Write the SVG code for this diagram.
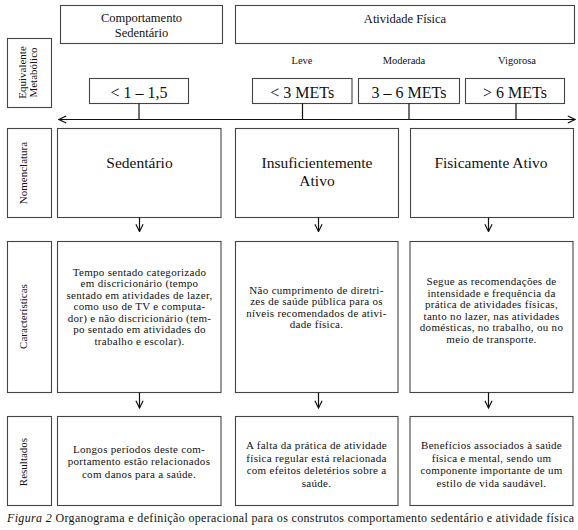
<svg xmlns="http://www.w3.org/2000/svg" width="578" height="530" viewBox="0 0 578 530">
<style>
.box{fill:#fff;stroke:#444;stroke-width:1.1}
.t{font-family:"Liberation Serif",serif;fill:#111;text-anchor:middle}
.h{font-size:12.5px}
.m{font-size:16px}
.s{font-size:10.5px}
.n{font-size:15.5px}
.b{font-size:11px;letter-spacing:0.3px}
.lab{font-size:11px}
.ln{stroke:#111;stroke-width:1.2;fill:none}
</style>
<defs>
<marker id="ah" viewBox="0 0 10 10" refX="9" refY="5" markerWidth="9" markerHeight="9" markerUnits="userSpaceOnUse" orient="auto">
<path d="M1,1 L9,5 L1,9" fill="none" stroke="#111" stroke-width="1.3"/>
</marker>
</defs>
<rect width="578" height="530" fill="#fff"/>

<g id="hdr-sed"><rect class="box" x="60.5" y="5.5" width="162" height="38"/>
<text class="t h" x="141.5" y="22">Comportamento</text><text class="t h" x="141.5" y="36.5">Sedentário</text></g>
<g id="hdr-af"><rect class="box" x="235.5" y="5.5" width="339" height="38"/>
<text class="t h" x="405" y="23">Atividade Física</text></g>

<g id="lab-eq"><rect class="box" x="7.5" y="38.5" width="44" height="69"/>
<text class="t lab" transform="translate(26,72.5) rotate(-90)">Equivalente</text>
<text class="t lab" transform="translate(36.5,72.5) rotate(-90)">Metabólico</text></g>

<text class="t s" x="302" y="64">Leve</text>
<text class="t s" x="404" y="64">Moderada</text>
<text class="t s" x="517" y="64">Vigorosa</text>

<g id="met-sed"><rect class="box" x="89.5" y="78.5" width="99" height="25"/><text class="t m" x="139" y="98">&lt; 1 – 1,5</text></g>
<g id="met-leve"><rect class="box" x="252.5" y="78.5" width="99.5" height="25"/><text class="t m" x="302.3" y="98">&lt; 3 METs</text></g>
<g id="met-mod"><rect class="box" x="358.5" y="78.5" width="101" height="25"/><text class="t m" x="409" y="98">3 – 6 METs</text></g>
<g id="met-vig"><rect class="box" x="465.5" y="78.5" width="99" height="25"/><text class="t m" x="515" y="98">&gt; 6 METs</text></g>

<g id="lab-nom"><rect class="box" x="7.5" y="128.5" width="44" height="89"/>
<text class="t lab" transform="translate(27,173) rotate(-90)">Nomenclatura</text></g>
<g id="nom-sed"><rect class="box" x="57.5" y="128.5" width="163.5" height="89"/><text class="t n" x="139.5" y="167.5">Sedentário</text></g>
<g id="nom-ins"><rect class="box" x="235.5" y="128.5" width="163" height="89"/><text class="t n" x="317" y="167.5">Insuficientemente</text><text class="t n" x="317" y="186">Ativo</text></g>
<g id="nom-fis"><rect class="box" x="410.5" y="128.5" width="163" height="89"/><text class="t n" x="491" y="167.5">Fisicamente Ativo</text></g>

<g id="lab-car"><rect class="box" x="7.5" y="241.5" width="44" height="151"/>
<text class="t lab" transform="translate(27,316.5) rotate(-90)">Características</text></g>
<g id="car-sed"><rect class="box" x="57.5" y="241.5" width="163.5" height="151"/>
<text class="t b" x="139.5" y="275.5">Tempo sentado categorizado</text>
<text class="t b" x="139.5" y="287">em discricionário (tempo</text>
<text class="t b" x="139.5" y="298.5">sentado em atividades de lazer,</text>
<text class="t b" x="139.5" y="310">como uso de TV e computa-</text>
<text class="t b" x="139.5" y="321.5">dor) e não discricionário (tem-</text>
<text class="t b" x="139.5" y="333">po sentado em atividades do</text>
<text class="t b" x="139.5" y="344.5">trabalho e escolar).</text></g>
<g id="car-ins"><rect class="box" x="235.5" y="241.5" width="162.5" height="151"/>
<text class="t b" x="316.5" y="293.5">Não cumprimento de diretri-</text>
<text class="t b" x="316.5" y="305">zes de saúde pública para os</text>
<text class="t b" x="316.5" y="316.5">níveis recomendados de ativi-</text>
<text class="t b" x="316.5" y="328">dade física.</text></g>
<g id="car-fis"><rect class="box" x="410" y="241.5" width="163" height="151"/>
<text class="t b" x="491.5" y="285">Segue as recomendações de</text>
<text class="t b" x="491.5" y="296.5">intensidade e frequência da</text>
<text class="t b" x="491.5" y="308">prática de atividades físicas,</text>
<text class="t b" x="491.5" y="319.5">tanto no lazer, nas atividades</text>
<text class="t b" x="491.5" y="331">domésticas, no trabalho, ou no</text>
<text class="t b" x="491.5" y="342.5">meio de transporte.</text></g>

<g id="lab-res"><rect class="box" x="7.5" y="416.5" width="44" height="89"/>
<text class="t lab" transform="translate(27,462) rotate(-90)">Resultados</text></g>
<g id="res-sed"><rect class="box" x="57.5" y="416.5" width="163.5" height="89"/>
<text class="t b" x="139" y="452.5">Longos períodos deste com-</text>
<text class="t b" x="139" y="465">portamento estão relacionados</text>
<text class="t b" x="139" y="477.5">com danos para a saúde.</text></g>
<g id="res-ins"><rect class="box" x="235.5" y="416.5" width="162.5" height="89"/>
<text class="t b" x="316.5" y="449">A falta da prática de atividade</text>
<text class="t b" x="316.5" y="461.5">física regular está relacionada</text>
<text class="t b" x="316.5" y="474">com efeitos deletérios sobre a</text>
<text class="t b" x="316.5" y="486.5">saúde.</text></g>
<g id="res-fis"><rect class="box" x="410" y="416.5" width="163" height="89"/>
<text class="t b" x="491.5" y="449">Benefícios associados à saúde</text>
<text class="t b" x="491.5" y="461.5">física e mental, sendo um</text>
<text class="t b" x="491.5" y="474">componente importante de um</text>
<text class="t b" x="491.5" y="486.5">estilo de vida saudável.</text></g>

<g id="connectors">
<path class="ln" d="M139,103.5 V119.5"/>
<path class="ln" d="M302.5,103.5 V119.5"/>
<path class="ln" d="M409,103.5 V119.5"/>
<path class="ln" d="M516,103.5 V119.5"/>
<path class="ln" d="M367,119.5 H59" marker-end="url(#ah)"/>
<path class="ln" d="M367,119.5 H575" marker-end="url(#ah)"/>
<path class="ln" d="M139.5,217.5 V231.5" marker-end="url(#ah)"/>
<path class="ln" d="M318.5,217.5 V231.5" marker-end="url(#ah)"/>
<path class="ln" d="M488.5,217.5 V231.5" marker-end="url(#ah)"/>
<path class="ln" d="M139.5,392.5 V408" marker-end="url(#ah)"/>
<path class="ln" d="M318.5,392.5 V408" marker-end="url(#ah)"/>
<path class="ln" d="M488.5,392.5 V408" marker-end="url(#ah)"/>
</g>

<text x="7" y="521.5" font-family="Liberation Serif, serif" font-size="12" fill="#111" textLength="567" lengthAdjust="spacing"><tspan font-style="italic">Figura 2</tspan> Organograma e definição operacional para os construtos comportamento sedentário e atividade física</text>
</svg>
